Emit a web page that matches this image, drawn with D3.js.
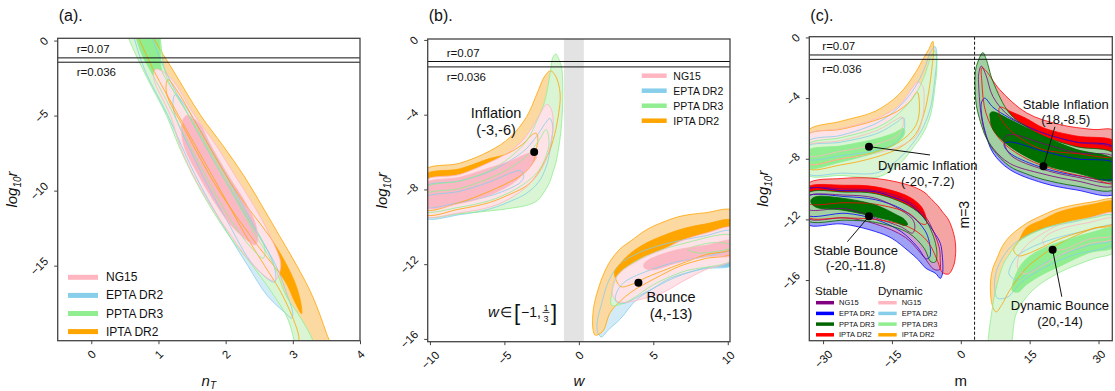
<!DOCTYPE html>
<html>
<head>
<meta charset="utf-8">
<script src="https://cdn.jsdelivr.net/npm/d3@7"></script>
<style>
  body { margin: 0; background: #fff; }
  text { font-family: "Liberation Sans", Arial, sans-serif; fill: #111; }
</style>
</head>
<body>
<svg id="chart" width="1115" height="391"></svg>
<script>
// ---- data ----
const seriesNames = ['NG15', 'EPTA DR2', 'PPTA DR3', 'IPTA DR2'];
const nTTicks = [0, 1, 2, 3, 4];
const wTicks = [-10, -5, 0, 5, 10];
const mTicks = [-30, -15, 0, 15, 30];
const logrTicksA = [0, -5, -10, -15];
const logrTicksB = [0, -4, -8, -12, -16];
const logrTicksC = [0, -4, -8, -12, -16];
const rValues = [0.07, 0.036];
const wBand = [-1, 1 / 3];
const mLine = 3;

// panel (a): stations [log10r, nT left, nT right]
const aIPTA2 = [[1.0,0.6,0.86],[0,0.72,0.95],[-2,0.93,1.22],[-5,1.3,1.63],[-7,1.55,1.96],[-9,1.8,2.27],[-11,2.05,2.54],[-13,2.3,2.8],[-15,2.58,3.06],[-17,2.85,3.29],[-19.5,3.08,3.5],[-21,3.13,3.6]];
const aIPTA1 = [[-2.6,1.14,1.14],[-3.5,1.12,1.3],[-6,1.4,1.62],[-10,1.9,2.15],[-13.5,2.45,2.72],[-16,2.88,3.02],[-17.5,3.04,3.12],[-18.2,3.13,3.13]];
const aPPTA2 = [[1.0,0.5,1.0],[0,0.57,1.03],[-2.4,0.82,1.12],[-5,1.12,1.45],[-7,1.3,1.7],[-9,1.51,1.95],[-11,1.76,2.2],[-13,2.05,2.45],[-15,2.4,2.72],[-17,2.72,2.9],[-18.5,2.92,3.12],[-20,3.02,3.3],[-21,3.06,3.36]];
const aPPTA1 = [[1.0,0.64,1.02],[0,0.68,1.02],[-1.0,0.76,1.03],[-2.0,0.88,1.05],[-4,1.12,1.32],[-8,1.58,1.85],[-12,2.08,2.36],[-13.8,2.38,2.58],[-14.5,2.56,2.56]];
const aEPTA2 = [[1.0,0.6,0.85],[0,0.65,0.92],[-2,0.8,1.1],[-5,1.14,1.45],[-9,1.55,1.95],[-12,1.92,2.35],[-15,2.33,2.75],[-17,2.62,2.92],[-18.2,2.9,3.0],[-18.5,2.98,2.98]];
const aEPTA1 = [[-3.6,1.25,1.25],[-4.5,1.22,1.42],[-8,1.55,1.88],[-12,2.02,2.38],[-15,2.42,2.72],[-16.1,2.73,2.73]];
const aNG152 = [[-1.9,0.96,0.96],[-2.5,0.93,1.18],[-5,1.18,1.54],[-7,1.32,1.86],[-9,1.52,2.14],[-11,1.78,2.42],[-13,2.08,2.66],[-15,2.42,2.82],[-16,2.72,2.72]];
const aNG151 = [[-5.0,1.42,1.42],[-5.5,1.35,1.6],[-7,1.38,1.78],[-9,1.6,2.04],[-11,1.87,2.32],[-12.5,2.12,2.46],[-13.6,2.45,2.45]];

// panel (b): stations [w, log10r low, log10r high]
const bIPTA2L = [[-10.4,-9.3,-7.0],[-8,-9.05,-6.6],[-6,-8.7,-5.95],[-4.6,-8.25,-5.2],[-3.5,-7.8,-4.1],[-2.8,-7.2,-2.85],[-2.3,-6.5,-1.95],[-1.9,-5.8,-1.65],[-1.55,-4.8,-1.95],[-1.3,-3.6,-2.6],[-1.25,-3.1,-3.1]];
const bIPTA1L = [[-10.4,-9.05,-7.26],[-8,-8.7,-6.9],[-6,-8.1,-6.35],[-4.9,-7.7,-6.12],[-3.8,-7.2,-5.6],[-3.1,-6.6,-5.05],[-2.85,-5.8,-5.0],[-2.75,-5.4,-5.4]];
const bPPTA2L = [[-10.4,-9.4,-7.95],[-8,-9.3,-7.55],[-6,-9.15,-7.0],[-4.5,-9.0,-6.2],[-3.5,-8.85,-5.4],[-2.8,-8.6,-4.3],[-2.3,-8.1,-3.3],[-1.95,-7.6,-1.9],[-1.75,-7.1,-0.95],[-1.55,-6.6,-0.75],[-1.3,-5.5,-1.1],[-1.15,-4.4,-1.5],[-1.08,-3.0,-3.0]];
const bPPTA1L = [[-10.4,-9.15,-8.3],[-8,-8.95,-7.95],[-6,-8.6,-7.4],[-4.5,-8.1,-6.8],[-3.5,-7.6,-6.2],[-2.7,-7.0,-5.4],[-2.2,-6.2,-4.8],[-2.0,-5.5,-5.5]];
const bEPTA2L = [[-10.4,-9.5,-7.9],[-8,-9.35,-7.55],[-6,-9.05,-7.05],[-4.5,-8.6,-6.4],[-3.5,-8.2,-5.8],[-2.7,-7.6,-5.0],[-2.2,-6.8,-4.4],[-1.95,-6.0,-4.2],[-1.8,-5.2,-4.4],[-1.75,-4.8,-4.8]];
const bEPTA1L = [[-10.4,-8.95,-8.45],[-8,-8.7,-8.1],[-6,-8.35,-7.6],[-4.5,-7.9,-7.1],[-3.9,-7.6,-7.0],[-3.7,-7.3,-7.3]];
const bNG152L = [[-10.4,-9.4,-7.57],[-8,-9.25,-7.2],[-6,-8.95,-6.55],[-4.9,-8.6,-6.1],[-3.8,-8.05,-5.4],[-3.0,-7.45,-4.5],[-2.5,-6.9,-3.8],[-2.15,-6.3,-3.45],[-1.85,-5.4,-3.7],[-1.72,-4.6,-4.6]];
const bNG151L = [[-10.4,-8.94,-7.72],[-8,-8.75,-7.35],[-6,-8.3,-6.85],[-4.5,-7.7,-6.45],[-3.5,-7.0,-6.1],[-3.0,-6.5,-6.05],[-2.85,-6.3,-6.3]];

const bIPTA2R = [[0.95,-15.5,-14.6],[1.1,-15.8,-13.9],[1.6,-15.6,-12.65],[2.1,-14.6,-11.85],[2.75,-14.0,-11.2],[3.5,-13.5,-10.75],[4.56,-13.0,-10.15],[5.5,-12.6,-9.8],[6.8,-12.1,-9.44],[8.5,-11.7,-9.25],[10.4,-11.35,-9.15]];
const bIPTA1R = [[2.4,-12.6,-12.4],[2.8,-13.2,-11.95],[3.5,-13.1,-11.4],[4.56,-12.7,-10.86],[6.8,-12.0,-10.15],[8.5,-11.5,-9.85],[10.4,-11.1,-9.68]];
const bPPTA2R = [[2.2,-14.2,-13.6],[2.6,-14.2,-12.6],[3.5,-13.9,-12.0],[5,-13.1,-11.4],[7,-12.4,-10.9],[10.4,-11.7,-10.5]];
const bPPTA1R = [[7.3,-11.2,-11.2],[8.0,-11.4,-11.0],[9,-11.35,-10.85],[10.0,-11.2,-10.9],[10.4,-11.1,-11.0]];
const bEPTA2R = [[1.25,-15.6,-15.0],[1.5,-15.9,-14.2],[2.0,-15.5,-12.9],[2.75,-14.96,-12.0],[3.88,-13.9,-11.45],[5,-13.3,-11.1],[6.14,-12.75,-10.85],[8.39,-12.25,-10.5],[10.4,-12.0,-10.25]];
const bEPTA1R = [[2.5,-14.0,-13.6],[3.0,-14.1,-13.0],[4.5,-13.5,-12.4],[6.5,-12.7,-11.9],[8.5,-12.2,-11.6],[10.4,-12.0,-11.35]];
const bNG152R = [[2.25,-13.6,-13.2],[2.5,-13.95,-12.7],[3.0,-14.05,-12.3],[4.56,-13.8,-11.57],[5.7,-13.5,-11.2],[6.8,-13.0,-10.77],[8.5,-12.3,-10.35],[10.4,-11.7,-10.06]];
const bNG151R = [[4.4,-12.2,-11.95],[5.0,-12.3,-11.65],[6.5,-11.95,-11.25],[8.5,-11.6,-11.0],[10.4,-11.5,-10.75]];

// panel (c): stations [m, log10r low, log10r high]
// dynamic inflation (upper left)
const cDIEPTA2 = [[-33.5,-8.95,-6.9],[-26,-8.95,-6.45],[-18,-8.9,-5.6],[-13.5,-8.0,-4.6],[-10,-6.8,-3.3],[-8,-5.8,-2.1],[-6.5,-4.5,-0.9],[-5.6,-2.6,-0.6],[-5.2,-1.2,-1.2]];
const cDIEPTA1 = [[-33.5,-8.0,-7.2],[-26,-7.8,-6.9],[-18,-7.4,-6.3],[-14,-6.9,-5.6],[-12.5,-6.2,-5.3],[-12.2,-5.7,-5.7]];
const cDIIPTA2 = [[-33.5,-8.6,-6.2],[-26,-8.4,-5.52],[-18.6,-7.9,-4.86],[-13.5,-7.3,-3.76],[-9.9,-6.4,-2.33],[-8,-5.0,-1.3],[-7,-3.6,-0.8],[-6.1,-1.5,-0.25],[-5.9,-0.8,-0.8]];
const cDIIPTA1 = [[-33.5,-8.3,-6.45],[-26,-8.0,-6.05],[-19,-7.6,-5.5],[-14,-7.0,-4.9],[-11,-6.3,-4.2],[-9.5,-5.6,-3.6],[-9.0,-4.6,-4.6]];
const cDING152 = [[-33.5,-8.3,-6.45],[-26,-8.0,-6.0],[-18,-7.6,-5.3],[-13.5,-7.2,-4.5],[-10.5,-6.7,-3.3],[-9.5,-6.4,-2.95],[-8.3,-5.2,-3.2],[-8.0,-4.3,-4.3]];
const cDING151 = [[-33.5,-7.8,-7.15],[-26,-7.5,-6.8],[-18,-7.0,-6.1],[-14,-6.5,-5.4],[-12.8,-6.0,-5.25],[-12.5,-5.6,-5.6]];
const cDIPPTA2 = [[-33.5,-9.05,-7.1],[-26,-9.1,-6.6],[-18,-9.2,-5.9],[-13.5,-8.4,-5.0],[-10,-7.1,-3.8],[-8,-6.2,-2.6],[-6.5,-5.0,-1.3],[-5.6,-3.2,-0.9],[-5.2,-1.9,-1.9]];
const cDIPPTA1 = [[-33.5,-8.6,-7.5],[-26,-8.2,-7.15],[-18.6,-7.6,-6.7],[-14.5,-7.1,-6.3],[-12.5,-6.5,-6.0],[-12.2,-6.2,-6.2]];
// dynamic bounce (lower right)
const cDBEPTA2 = [[7.4,-16.6,-16.0],[8.0,-17.2,-15.2],[10.3,-17.1,-14.0],[13,-16.2,-13.3],[18,-15.2,-12.6],[24,-14.4,-12.2],[33.5,-13.5,-11.8]];
const cDBEPTA1 = [[10.5,-15.6,-15.4],[12,-16.0,-14.5],[15,-15.5,-13.9],[20,-14.6,-13.3],[28,-13.7,-12.7],[33.5,-13.3,-12.4]];
const cDBIPTA2 = [[6.5,-17.0,-16.0],[7.0,-17.8,-15.2],[7.7,-18.1,-14.7],[9,-17.6,-13.8],[10.6,-16.7,-13.14],[14.3,-15.2,-12.26],[18,-14.3,-11.7],[21.5,-13.6,-11.27],[28.8,-12.6,-10.84],[33.5,-12.2,-10.7]];
const cDBIPTA1 = [[11.5,-14.0,-14.0],[12.5,-14.4,-13.5],[14.3,-14.3,-12.55],[18,-13.8,-12.0],[21.5,-13.3,-11.5],[28.8,-12.6,-11.0],[33.5,-12.3,-10.85]];
const cDBNG152 = [[12.5,-15.3,-14.6],[14,-15.6,-13.8],[18,-15.0,-12.9],[22,-14.3,-12.3],[28,-13.6,-11.9],[33.5,-13.2,-11.6]];
const cDBNG151 = [[17.8,-13.4,-13.4],[19,-13.9,-13.0],[22,-14.0,-12.6],[28,-13.3,-12.2],[33.5,-13.0,-11.95]];
const cDBPPTA2 = [[5.8,-21,-20.5],[6.5,-21,-18.6],[7.5,-21,-16.8],[9.2,-21,-15.0],[10.8,-20.4,-14.2],[12.1,-18.2,-13.6],[15.7,-16.66,-12.9],[21.5,-15.5,-12.3],[28.8,-14.6,-11.9],[33.5,-14.1,-11.75]];
const cDBPPTA1 = [[11.2,-16.7,-16.4],[12.5,-16.8,-15.3],[14.3,-16.3,-14.6],[18,-15.6,-13.9],[21.5,-15.1,-13.5],[28,-14.2,-12.9],[33.5,-13.8,-12.6]];
// stable inflation (upper right)
const cSIEPTA2 = [[4.5,-5.0,-4.3],[5.2,-6.1,-4.0],[7,-7.6,-4.6],[10.6,-8.7,-5.3],[17.9,-9.6,-6.3],[25.1,-10.05,-6.9],[33.5,-10.3,-7.3]];
const cSIEPTA1 = [[9.5,-7.2,-7.0],[11,-7.7,-6.9],[17.9,-8.6,-7.5],[25.1,-9.1,-8.0],[33.5,-9.3,-8.3]];
const cSING152 = [[3.9,-3.2,-2.4],[4.47,-5.2,-1.89],[5.5,-6.5,-2.5],[7,-7.3,-3.9],[10.6,-8.3,-5.2],[17.9,-9.0,-6.3],[25.1,-9.45,-6.9],[33.5,-9.75,-7.4]];
const cSING151 = [[9.5,-7.0,-6.6],[11,-7.8,-6.4],[17.9,-8.7,-7.0],[25.1,-9.2,-7.6],[33.5,-9.5,-7.9]];
const cSIIPTA2 = [[4.6,-3.0,-2.0],[5.5,-5.0,-2.2],[8.45,-6.7,-3.43],[14.3,-8.0,-4.97],[21.5,-8.8,-5.74],[28.8,-9.3,-6.07],[33.5,-9.6,-6.18]];
const cSIIPTA1 = [[8.5,-5.2,-4.6],[11,-6.2,-4.9],[14.3,-6.9,-5.35],[17.9,-7.4,-5.95],[25.1,-7.65,-6.5],[33.5,-7.8,-6.85]];
const cSIPPTA2 = [[3.1,-3.3,-2.6],[3.4,-4.5,-1.9],[4.8,-6.07,-1.0],[5.5,-6.6,-1.4],[7.0,-7.38,-2.9],[10.6,-8.49,-5.0],[14.3,-9.0,-5.9],[17.9,-9.36,-6.5],[25.1,-9.8,-7.2],[33.5,-10.0,-7.7]];
const cSIPPTA1 = [[6.4,-5.3,-5.0],[7.0,-6.07,-4.9],[10.6,-7.17,-5.4],[17.9,-8.37,-6.5],[25.1,-8.93,-7.38],[33.5,-9.4,-8.1]];
// stable bounce (lower left)
const cSBEPTA2 = [[-33.5,-12.3,-10.05],[-25.9,-12.3,-10.1],[-18.6,-12.8,-10.18],[-15,-13.25,-10.5],[-11.35,-14.1,-10.94],[-9.2,-14.68,-11.5],[-7.7,-15.2,-12.04],[-5.5,-15.56,-13.0],[-4.45,-15.89,-13.58],[-4.0,-15.6,-14.5],[-3.9,-15.2,-15.2]];
const cSBEPTA1 = [[-33.5,-11.7,-10.5],[-25,-11.6,-10.5],[-18.6,-12.0,-10.7],[-13,-12.8,-11.3],[-9.5,-13.8,-12.1],[-7.5,-14.6,-12.9],[-6.8,-14.5,-13.6],[-6.6,-14.1,-14.1]];
const cSBNG152 = [[-33.5,-11.9,-10.1],[-25,-11.9,-10.0],[-18.6,-12.3,-10.1],[-12,-13.2,-10.7],[-8,-14.5,-11.7],[-5.8,-15.3,-12.9],[-4.6,-15.3,-14.0],[-4.5,-14.6,-14.6]];
const cSBNG151 = [[-33.5,-11.3,-10.5],[-25,-11.3,-10.4],[-18.6,-11.9,-10.6],[-13,-12.5,-11.4],[-10.5,-12.9,-12.0],[-10,-12.5,-12.5]];
const cSBIPTA2 = [[-33.5,-11.8,-9.7],[-25.9,-11.9,-9.3],[-18.6,-12.0,-9.3],[-11.35,-12.5,-9.74],[-8,-13.2,-10.2],[-6.3,-13.9,-10.7],[-5,-14.8,-11.1],[-4,-15.5,-11.5],[-2.65,-15.6,-12.04],[-1.5,-15.0,-13.0],[-1.2,-14.5,-13.5],[-1.1,-14.0,-14.0]];
const cSBIPTA1 = [[-33.5,-10.9,-9.9],[-25,-10.9,-9.75],[-18.6,-11.0,-9.85],[-11.35,-11.6,-10.5],[-8.5,-12.3,-11.2],[-7.5,-12.3,-12.0]];
const cSBPPTA2 = [[-33.5,-12.05,-10.3],[-25,-12.05,-10.2],[-18.6,-12.2,-10.3],[-11.35,-12.9,-11.1],[-8,-13.9,-11.9],[-6.5,-14.8,-12.7],[-5.5,-14.8,-13.6],[-5.2,-14.3,-14.3]];
const cSBPPTA1 = [[-32.6,-10.9,-10.7],[-31.5,-11.2,-10.5],[-25.9,-11.38,-10.6],[-18.6,-11.83,-11.05],[-14,-12.2,-11.7],[-12.3,-12.4,-12.0],[-11.6,-12.35,-12.35]];

// annotated points: [label line 1, label line 2], point, label centre, connector end
const annB = [
  { t: ['Inflation', '(-3,-6)'], pt: [-3, -6], at: [-5.56, -3.91] },
  { t: ['Bounce', '(4,-13)'], pt: [4, -13], at: [6.19, -13.74] }
];
const annC = [
  { t: ['Dynamic Inflation', '(-20,-7.2)'], pt: [-20, -7.2], at: [-7.2, -8.46], end: [-6.7, -7.75] },
  { t: ['Stable Inflation', '(18,-8.5)'], pt: [18, -8.5], at: [22.85, -4.39], end: [20.5, -5.89] },
  { t: ['Stable Bounce', '(-20,-11.8)'], pt: [-20, -11.8], at: [-22.9, -14.02], end: [-24.7, -13.47] },
  { t: ['Dynamic Bounce', '(20,-14)'], pt: [20, -14], at: [21.6, -17.7], end: [22.0, -17.1] }
];

// ---- styles ----
const dynLine = ['#ffb6c1', '#87ceeb', '#90ee90', '#ffa500'];
const dynFill2 = ['#fde3e8', '#d3ebf6', '#d9f5d3', '#fdd9a2'];
const dynFill1 = ['#f9b8c4', '#87ceeb', '#90ee90', '#ffa500'];
const stLine = ['#800080', '#0000ff', '#006400', '#ff0000'];
const stFill2 = ['#cf9fcf', '#a0a0f4', '#a3d0a3', '#f5a4a4'];
const stFill1 = ['#800080', '#0000ff', '#007000', '#ff0000'];

// contour layers in drawing order (k = index into seriesNames)
const contourSets = [
  { p: 0, st: 'd', k: 1, s2: aEPTA2, s1: aEPTA1 },
  { p: 0, st: 'd', k: 3, s2: aIPTA2, s1: aIPTA1 },
  { p: 0, st: 'd', k: 2, s2: aPPTA2, s1: aPPTA1 },
  { p: 0, st: 'd', k: 0, s2: aNG152, s1: aNG151 },

  { p: 1, st: 'd', k: 1, s2: bEPTA2L, s1: bEPTA1L },
  { p: 1, st: 'd', k: 1, s2: bEPTA2R, s1: bEPTA1R },
  { p: 1, st: 'd', k: 3, s2: bIPTA2L, s1: bIPTA1L },
  { p: 1, st: 'd', k: 3, s2: bIPTA2R, s1: bIPTA1R },
  { p: 1, st: 'd', k: 2, s2: bPPTA2L, s1: bPPTA1L },
  { p: 1, st: 'd', k: 2, s2: bPPTA2R, s1: bPPTA1R },
  { p: 1, st: 'd', k: 0, s2: bNG152L, s1: bNG151L },
  { p: 1, st: 'd', k: 0, s2: bNG152R, s1: bNG151R },

  { p: 2, st: 'd', k: 1, s2: cDIEPTA2, s1: cDIEPTA1 },
  { p: 2, st: 'd', k: 1, s2: cDBEPTA2, s1: cDBEPTA1 },
  { p: 2, st: 'd', k: 3, s2: cDIIPTA2, s1: cDIIPTA1 },
  { p: 2, st: 'd', k: 3, s2: cDBIPTA2, s1: cDBIPTA1 },
  { p: 2, st: 'd', k: 0, s2: cDING152, s1: cDING151 },
  { p: 2, st: 'd', k: 0, s2: cDBNG152, s1: cDBNG151 },
  { p: 2, st: 'd', k: 2, s2: cDIPPTA2, s1: cDIPPTA1 },
  { p: 2, st: 'd', k: 2, s2: cDBPPTA2, s1: cDBPPTA1 },
  { p: 2, st: 's', k: 1, s2: cSIEPTA2, s1: cSIEPTA1 },
  { p: 2, st: 's', k: 1, s2: cSBEPTA2, s1: cSBEPTA1 },
  { p: 2, st: 's', k: 0, s2: cSING152, s1: cSING151 },
  { p: 2, st: 's', k: 0, s2: cSBNG152, s1: cSBNG151 },
  { p: 2, st: 's', k: 3, s2: cSIIPTA2, s1: cSIIPTA1 },
  { p: 2, st: 's', k: 3, s2: cSBIPTA2, s1: cSBIPTA1 },
  { p: 2, st: 's', k: 2, s2: cSIPPTA2, s1: cSIPPTA1 },
  { p: 2, st: 's', k: 2, s2: cSBPPTA2, s1: cSBPPTA1 }
];

// ---- layout ----
const panels = [
  { tag: '(a).', x0: 57.7, x1: 360, y0: 38.3, y1: 340.7, xd: [-0.5, 4], yd: [-20, 0.15], xt: nTTicks, yt: logrTicksA, orient: 'y' },
  { tag: '(b).', x0: 427.7, x1: 730, y0: 39, y1: 341.7, xd: [-10.15, 10.15], yd: [-16.15, 0.05], xt: wTicks, yt: logrTicksB, orient: 'x' },
  { tag: '(c).', x0: 809.3, x1: 1112.3, y0: 36.7, y1: 340.7, xd: [-33, 33], yd: [-20, 0.05], xt: mTicks, yt: logrTicksC, orient: 'x' }
];

const svg = d3.select('#chart');
const TICK = 3.5, PAD = 5, TFS = 11.5;
const fmt = d3.format('d');

function ring(st, orient) {
  const up = st.map(d => [d[0], d[2]]);
  const dn = st.slice().reverse().map(d => [d[0], d[1]]);
  let pts = up.concat(dn);
  pts = pts.filter((p, i) => {
    const q = pts[(i + pts.length - 1) % pts.length];
    return !(p[0] === q[0] && p[1] === q[1]);
  });
  return orient === 'y' ? pts.map(p => [p[1], p[0]]) : pts;
}

panels.forEach((p, pi) => {
  const xs = d3.scaleLinear().domain(p.xd).range([p.x0, p.x1]);
  const ys = d3.scaleLinear().domain(p.yd).range([p.y1, p.y0]);
  const g = svg.append('g');

  const clipId = 'clip' + pi;
  svg.append('clipPath').attr('id', clipId).append('rect')
    .attr('x', p.x0).attr('y', p.y0).attr('width', p.x1 - p.x0).attr('height', p.y1 - p.y0);
  const plot = g.append('g').attr('clip-path', `url(#${clipId})`);

  if (pi === 1) {
    plot.append('rect')
      .attr('x', xs(wBand[0])).attr('width', xs(wBand[1]) - xs(wBand[0]))
      .attr('y', p.y0).attr('height', p.y1 - p.y0)
      .attr('fill', '#e3e3e3');
  }

  const line = d3.line().x(d => xs(d[0])).y(d => ys(d[1]))
    .curve(d3.curveCatmullRomClosed.alpha(0.5));
  const sets = contourSets.filter(c => c.p === pi);

  sets.forEach(c => {
    const f2 = c.st === 'd' ? dynFill2 : stFill2;
    const f1 = c.st === 'd' ? dynFill1 : stFill1;
    plot.append('path').attr('d', line(ring(c.s2, p.orient))).attr('fill', f2[c.k]);
    plot.append('path').attr('d', line(ring(c.s1, p.orient))).attr('fill', f1[c.k]);
  });
  sets.forEach(c => {
    const lc = c.st === 'd' ? dynLine : stLine;
    const lw = 0.8;
    [c.s2, c.s1].forEach(s => {
      plot.append('path').attr('d', line(ring(s, p.orient)))
        .attr('fill', 'none').attr('stroke', lc[c.k]).attr('stroke-width', lw);
    });
  });

  // r reference lines
  rValues.forEach((r, i) => {
    const yy = ys(Math.log10(r));
    g.append('line').attr('x1', p.x0).attr('x2', p.x1).attr('y1', yy).attr('y2', yy)
      .attr('stroke', '#111').attr('stroke-width', 1);
    g.append('text').attr('x', p.x0 + (pi === 2 ? 13 : 19))
      .attr('y', yy + (i === 0 ? -9 : 10))
      .attr('dominant-baseline', 'central').attr('font-size', 11.5)
      .text('r=' + r);
  });

  if (pi === 2) {
    g.append('line').attr('x1', xs(mLine)).attr('x2', xs(mLine))
      .attr('y1', p.y0).attr('y2', p.y1)
      .attr('stroke', '#111').attr('stroke-width', 1).attr('stroke-dasharray', '3,2');
    g.append('text').attr('transform', `translate(${xs(mLine) - 6},${(p.y0 + p.y1) / 2 + 26}) rotate(-90)`)
      .attr('text-anchor', 'middle').attr('font-size', 14).text('m=3');
  }

  // axes
  const xAxis = g.append('g').attr('transform', `translate(0,${p.y1})`)
    .call(d3.axisBottom(xs).tickValues(p.xt).tickFormat(fmt).tickSize(TICK).tickSizeOuter(0));
  const yAxis = g.append('g').attr('transform', `translate(${p.x0},0)`)
    .call(d3.axisLeft(ys).tickValues(p.yt).tickFormat(fmt).tickSize(TICK).tickSizeOuter(0));
  [xAxis, yAxis].forEach(a => {
    a.select('.domain').remove();
    a.selectAll('.tick line').attr('stroke', '#444');
    a.selectAll('.tick text').attr('font-size', TFS).attr('fill', '#111')
      .attr('font-family', '"Liberation Sans", Arial, sans-serif');
  });
  xAxis.selectAll('.tick text').each(function () {
    const w = this.getComputedTextLength();
    const s = (w + TFS * 0.72) * Math.SQRT1_2;
    d3.select(this).attr('y', 0).attr('dy', null).attr('text-anchor', 'middle')
      .attr('dominant-baseline', 'central')
      .attr('transform', `translate(0,${TICK + PAD + s / 2}) rotate(-45)`);
  });
  yAxis.selectAll('.tick text').each(function () {
    const w = this.getComputedTextLength();
    const s = (w + TFS * 0.72) * Math.SQRT1_2;
    d3.select(this).attr('x', 0).attr('dy', null).attr('text-anchor', 'middle')
      .attr('dominant-baseline', 'central')
      .attr('transform', `translate(${-(TICK + PAD + s / 2)},0) rotate(-45)`);
  });

  // frame
  g.append('rect').attr('x', p.x0).attr('y', p.y0)
    .attr('width', p.x1 - p.x0).attr('height', p.y1 - p.y0)
    .attr('fill', 'none').attr('stroke', '#444').attr('stroke-width', 1.3);

  // panel tag
  g.append('text').attr('x', p.x0 + 1).attr('y', 21).attr('font-size', 16).text(p.tag);

  // y label
  const yl = g.append('text')
    .attr('transform', `translate(${p.x0 - 41},${(p.y0 + p.y1) / 2}) rotate(-90)`)
    .attr('text-anchor', 'middle').attr('font-size', 15).attr('font-style', 'italic');
  yl.append('tspan').text('log');
  yl.append('tspan').attr('font-size', 10).attr('dy', 4).text('10');
  yl.append('tspan').attr('dy', -4).text('r');

  // x label
  const xl = g.append('text').attr('x', (p.x0 + p.x1) / 2).attr('y', 386)
    .attr('text-anchor', 'middle').attr('font-size', 15);
  if (pi === 0) {
    xl.append('tspan').attr('font-style', 'italic').text('n');
    xl.append('tspan').attr('font-style', 'italic').attr('font-size', 10).attr('dy', 3).text('T');
  } else if (pi === 1) {
    xl.attr('font-style', 'italic').text('w');
  } else {
    xl.text('m');
  }

  // annotations
  const ann = pi === 1 ? annB : pi === 2 ? annC : [];
  const afs = pi === 1 ? 14.5 : 13;
  ann.forEach(a => {
    if (a.end) {
      g.append('line').attr('x1', xs(a.pt[0])).attr('y1', ys(a.pt[1]))
        .attr('x2', xs(a.end[0])).attr('y2', ys(a.end[1]))
        .attr('stroke', '#111').attr('stroke-width', 1);
    }
    g.append('circle').attr('cx', xs(a.pt[0])).attr('cy', ys(a.pt[1])).attr('r', 4).attr('fill', '#000');
    a.t.forEach((s, i) => {
      g.append('text').attr('x', xs(a.at[0])).attr('y', ys(a.at[1]) + i * (afs + 2.5))
        .attr('text-anchor', 'middle').attr('dominant-baseline', 'central')
        .attr('font-size', afs).text(s);
    });
  });

  if (pi === 1) {
    // w in [-1, 1/3]
    const bx = xs(-6.1), by = ys(-14.54);
    const t = g.append('g').attr('transform', `translate(${bx},${by})`);
    t.append('text').attr('x', 0).attr('y', 5).attr('font-size', 15).attr('font-style', 'italic').text('w');
    t.append('text').attr('x', 12).attr('y', 5).attr('font-size', 14).text('∈');
    t.append('text').attr('x', 26).attr('y', 8).attr('font-size', 22).attr('font-weight', 300).attr('fill', '#333').text('[');
    t.append('text').attr('x', 33).attr('y', 5).attr('font-size', 14).text('−1,');
    t.append('text').attr('x', 58).attr('y', -1).attr('font-size', 9).attr('text-anchor', 'middle').text('1');
    t.append('line').attr('x1', 54.5).attr('x2', 61.5).attr('y1', 0.8).attr('y2', 0.8).attr('stroke', '#111').attr('stroke-width', 0.8);
    t.append('text').attr('x', 58).attr('y', 10).attr('font-size', 9).attr('text-anchor', 'middle').text('3');
    t.append('text').attr('x', 63).attr('y', 8).attr('font-size', 22).attr('font-weight', 300).attr('fill', '#333').text(']');
  }
});

// ---- legends ----
function legendRows(x1, x2, tx, ys0, step, fs, sw, colors) {
  seriesNames.forEach((n, i) => {
    const yy = ys0 + i * step;
    svg.append('line').attr('x1', x1).attr('x2', x2).attr('y1', yy).attr('y2', yy)
      .attr('stroke', colors[i]).attr('stroke-width', sw);
    svg.append('text').attr('x', tx).attr('y', yy).attr('dominant-baseline', 'central')
      .attr('font-size', fs).text(n);
  });
}
legendRows(68, 98, 106, 277.3, 18.1, 12, 5, dynLine);
legendRows(641.7, 666.7, 673.3, 75.7, 15, 10.5, 4.5, dynLine);
svg.append('text').attr('x', 815).attr('y', 290.7).attr('dominant-baseline', 'central').attr('font-size', 11.5).text('Stable');
svg.append('text').attr('x', 878).attr('y', 290.7).attr('dominant-baseline', 'central').attr('font-size', 11.5).text('Dynamic');
legendRows(816, 834, 839, 302.7, 10.7, 7.5, 3.5, stLine);
legendRows(878.3, 896.7, 901.7, 302.7, 10.7, 7.5, 3.5, dynLine);
</script>
</body>
</html>
